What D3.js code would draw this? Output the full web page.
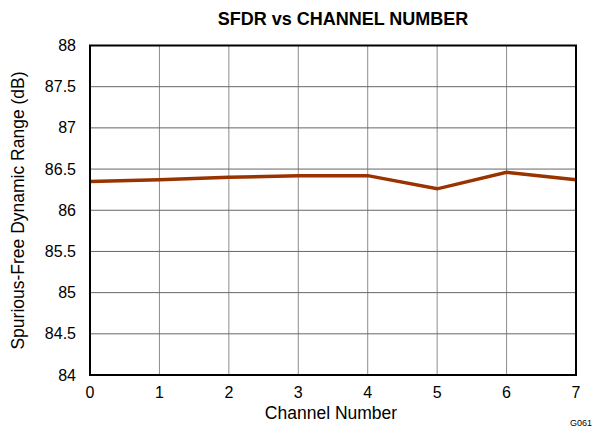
<!DOCTYPE html>
<html>
<head>
<meta charset="utf-8">
<script src="https://cdn.jsdelivr.net/npm/d3@7"></script>
<style>
  body { margin: 0; background: #fff; }
  svg { font-family: "Liberation Sans", Arial, sans-serif; }
</style>
</head>
<body>
<div id="chart"></div>
<script>
// data
const channels = [0, 1, 2, 3, 4, 5, 6, 7];
const sfdr = [86.35, 86.37, 86.4, 86.42, 86.42, 86.26, 86.46, 86.37];
const yTicks = [84, 84.5, 85, 85.5, 86, 86.5, 87, 87.5, 88];
const xTicks = [0, 1, 2, 3, 4, 5, 6, 7];

const width = 597, height = 430;
const margin = { top: 45.5, right: 21, bottom: 55, left: 90 };

const svg = d3.select("#chart").append("svg")
    .attr("width", width)
    .attr("height", height);

const x = d3.scaleLinear().domain([0, 7]).range([margin.left, width - margin.right]);
const y = d3.scaleLinear().domain([84, 88]).range([height - margin.bottom, margin.top]);

// grid
svg.append("g").selectAll("line")
    .data(xTicks.slice(1, -1))
    .enter().append("line")
    .attr("x1", d => x(d)).attr("x2", d => x(d))
    .attr("y1", y(84)).attr("y2", y(88))
    .attr("stroke", "#8c8c8c").attr("stroke-width", 1);

svg.append("g").selectAll("line")
    .data(yTicks.slice(1, -1))
    .enter().append("line")
    .attr("x1", x(0)).attr("x2", x(7))
    .attr("y1", d => y(d)).attr("y2", d => y(d))
    .attr("stroke", "#666").attr("stroke-width", 1);

// line
const line = d3.line()
    .x((d, i) => x(channels[i]))
    .y(d => y(d));

svg.append("path")
    .datum(sfdr)
    .attr("d", line)
    .attr("fill", "none")
    .attr("stroke", "#993300")
    .attr("stroke-width", 3.5);

// frame
svg.append("rect")
    .attr("x", x(0)).attr("y", y(88))
    .attr("width", x(7) - x(0)).attr("height", y(84) - y(88))
    .attr("fill", "none").attr("stroke", "#000").attr("stroke-width", 2);

// tick labels
svg.append("g").selectAll("text")
    .data(xTicks)
    .enter().append("text")
    .attr("x", d => x(d))
    .attr("y", y(84) + 23)
    .attr("text-anchor", "middle")
    .style("font-size", "16px")
    .text(d => d);

svg.append("g").selectAll("text")
    .data(yTicks)
    .enter().append("text")
    .attr("x", x(0) - 14)
    .attr("y", d => y(d) + 5.5)
    .attr("text-anchor", "end")
    .style("font-size", "16px")
    .text(d => d);

// titles
svg.append("text")
    .attr("x", (x(0) + x(7)) / 2 + 10)
    .attr("y", 25)
    .attr("text-anchor", "middle")
    .style("font-size", "18px")
    .style("font-weight", "bold")
    .text("SFDR vs CHANNEL NUMBER");

svg.append("text")
    .attr("x", 331)
    .attr("y", 419)
    .attr("text-anchor", "middle")
    .style("font-size", "17.5px")
    .text("Channel Number");

svg.append("text")
    .attr("transform", `translate(24,210.5) rotate(-90)`)
    .attr("text-anchor", "middle")
    .style("font-size", "17.5px")
    .text("Spurious-Free Dynamic Range (dB)");

svg.append("text")
    .attr("x", 592)
    .attr("y", 426)
    .attr("text-anchor", "end")
    .style("font-size", "9px")
    .text("G061");
</script>
</body>
</html>
